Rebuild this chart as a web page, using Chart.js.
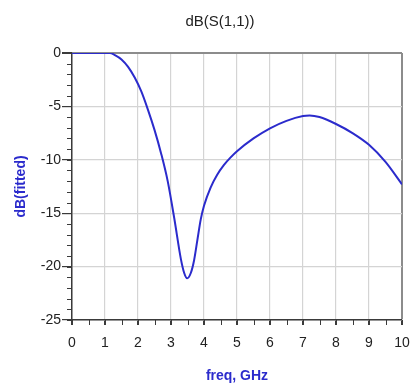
<!DOCTYPE html>
<html>
<head>
<meta charset="utf-8">
<script src="https://cdn.jsdelivr.net/npm/chart.js@4"></script>
<style>
  html, body { margin: 0; padding: 0; background: #fff; }
  #wrap { width: 411px; height: 388px; }
</style>
</head>
<body>
<div id="wrap"><canvas id="chart" width="411" height="388"></canvas></div>
<script>
// titulos
const chartTitle = "dB(S(1,1))";
const xTitle = "freq, GHz";
const yTitle = "dB(fitted)";

// frequencia (GHz) e dB(S(1,1))
const freq = [0, 0.5, 1.0, 1.15, 1.3, 1.5, 1.7, 1.9, 2.1, 2.3, 2.5, 2.7, 2.9, 3.1, 3.3, 3.4, 3.49, 3.6, 3.7, 3.8, 3.9, 4.0, 4.2, 4.4, 4.6, 4.8, 5.0, 5.5, 6.0, 6.5, 7.0, 7.2, 7.5, 8.0, 8.5, 9.0, 9.5, 10];
const s11 = [0, 0, 0, 0, -0.2, -0.6, -1.3, -2.3, -3.6, -5.3, -7.2, -9.4, -12.0, -15.5, -19.3, -20.6, -21.1, -20.6, -19.4, -17.5, -15.6, -14.3, -12.6, -11.4, -10.5, -9.8, -9.2, -8.0, -7.05, -6.35, -5.9, -5.85, -6.0, -6.65, -7.5, -8.6, -10.2, -12.3];

// eixos
const xMin = 0, xMax = 10, xStep = 1, xMinor = 0.5;
const yMin = -25, yMax = 0, yStep = 5, yMinor = 1;

const points = freq.map((f, i) => ({ x: f, y: s11[i] }));

const blue = "#2b2bcc";
const gridColor = "#d4d4d4";
const frameColor = "#8c8c8c";
const axisColor = "#3a3a3a";
const font = "'Liberation Sans', Arial, sans-serif";

// titulo e tracinhos menores
const extras = {
  id: 'extras',
  afterDraw(chart) {
    const c = chart.ctx;
    const xs = chart.scales.x, ys = chart.scales.y;
    const area = chart.chartArea;
    c.save();
    c.strokeStyle = axisColor;
    c.lineWidth = 1;
    for (let v = xMin; v <= xMax + 1e-9; v += xMinor) {
      const px = Math.round(xs.getPixelForValue(v)) + 0.5;
      c.beginPath();
      c.moveTo(px, area.bottom);
      c.lineTo(px, area.bottom + 5);
      c.stroke();
    }
    for (let v = yMin; v <= yMax + 1e-9; v += yMinor) {
      const py = Math.round(ys.getPixelForValue(v)) + 0.5;
      c.beginPath();
      c.moveTo(area.left - 5, py);
      c.lineTo(area.left, py);
      c.stroke();
    }
    c.fillStyle = "#222";
    c.font = "15px " + font;
    c.textAlign = "center";
    c.textBaseline = "middle";
    c.fillText(chartTitle, 220, 22);
    c.restore();
  }
};

const ctx = document.getElementById('chart').getContext('2d');
new Chart(ctx, {
  type: 'line',
  data: {
    datasets: [{
      data: points,
      borderColor: blue,
      borderWidth: 2,
      pointRadius: 0,
      fill: false,
      cubicInterpolationMode: 'monotone'
    }]
  },
  options: {
    responsive: false,
    animation: false,
    layout: { padding: { top: 53, right: 0, left: 0, bottom: 0 } },
    plugins: {
      legend: { display: false },
      tooltip: { enabled: false },
      title: { display: false }
    },
    scales: {
      x: {
        type: 'linear',
        min: xMin,
        max: xMax,
        afterFit: (s) => { s.height = 68; s.paddingRight = 9; s.paddingLeft = 0; },
        ticks: {
          stepSize: xStep,
          autoSkip: false,
          maxRotation: 0,
          padding: 10,
          color: "#222",
          font: { family: font, size: 14 }
        },
        grid: {
          color: (c) => (c.tick && c.tick.value === xMax) ? frameColor : gridColor,
          lineWidth: (c) => (c.tick && c.tick.value === xMax) ? 2 : 1.2,
          tickColor: axisColor,
          tickLength: 5
        },
        border: { color: axisColor, width: 1.5 },
        title: {
          display: true,
          text: xTitle,
          color: blue,
          font: { family: font, size: 14, weight: 'bold' },
          padding: { top: 0, bottom: 3 }
        }
      },
      y: {
        min: yMin,
        max: yMax,
        afterFit: (s) => { s.width = 72; },
        ticks: {
          stepSize: yStep,
          padding: 1,
          color: "#222",
          font: { family: font, size: 14 }
        },
        grid: {
          color: (c) => (c.tick && c.tick.value === yMax) ? frameColor : gridColor,
          lineWidth: (c) => (c.tick && c.tick.value === yMax) ? 2 : 1.2,
          tickColor: axisColor,
          tickLength: 10
        },
        border: { color: axisColor, width: 1.5 },
        title: {
          display: true,
          text: yTitle,
          color: blue,
          font: { family: font, size: 14, weight: 'bold' },
          padding: { top: 13, bottom: 0 }
        }
      }
    }
  },
  plugins: [extras]
});
</script>
</body>
</html>
